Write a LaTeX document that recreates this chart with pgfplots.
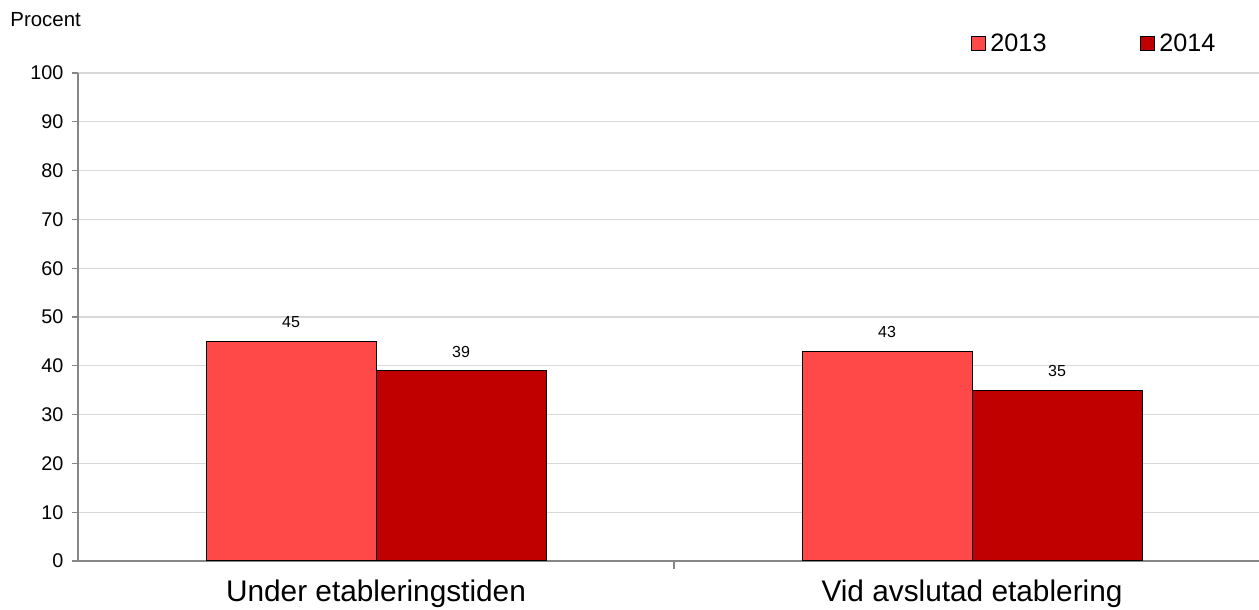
\documentclass[border=0pt]{standalone}
\usepackage{pgfplots}
\pgfplotsset{compat=1.18}
\usepackage{fontspec}
\setmainfont{Liberation Sans}
\definecolor{c2013}{HTML}{FF4949}
\definecolor{c2014}{HTML}{C00000}
\definecolor{gridc}{HTML}{D9D9D9}
\definecolor{axc}{HTML}{868686}
\begin{document}
\begin{tikzpicture}
\useasboundingbox (-39pt,-24.5pt) rectangle (590.5pt,280.5pt);
\begin{axis}[
  at={(0pt,0pt)}, anchor=south west,
  scale only axis, width=590.5pt, height=244pt,
  xmin=-0.5, xmax=1.4815, ymin=0, ymax=100,
  axis x line*=bottom, axis y line*=left,
  axis line style={draw=axc, line width=0.6pt},
  ytick={0,10,...,100},
  ymajorgrids, major grid style={draw=gridc, line width=0.6pt},
  xtick={0,1},
  xticklabels={Under etableringstiden, Vid avslutad etablering},
  minor xtick={0.5},
  tick align=outside,
  major tick length=3pt, minor tick length=4pt,
  major x tick style={draw=none},
  tick style={draw=axc, line width=0.6pt},
  /pgf/number format/assume math mode=true,
  yticklabel style={font=\fontsize{9.9}{11}\selectfont, xshift=-0.8pt},
  xticklabel style={font=\fontsize{14.9}{17}\selectfont, yshift=-3pt},
  ylabel={Procent},
  ylabel style={rotate=-90, at={(axis description cs:-0.0575,1.0943)}, anchor=base west, font=\fontsize{10.2}{12}\selectfont, inner sep=0pt},
  ybar, bar width=85pt,
  nodes near coords,
  every node near coord/.append style={font=\fontsize{8}{10}\selectfont, inner sep=0pt, yshift=6.5pt, text=black},
  legend columns=-1,
  legend image code/.code={\draw[#1, line width=0.5pt] (0pt,-3.5pt) rectangle (7pt,3.5pt);},
  legend style={at={(axis description cs:0.7562,1.0595)}, anchor=west, draw=none, fill=none, inner sep=0pt, outer sep=0pt,
    font=\fontsize{12.6}{14}\selectfont, nodes={inner sep=2.2pt},
    /tikz/every even column/.append style={column sep=44.5pt}},
  clip=false,
]
\addplot+[bar shift=-42.5pt, fill=c2013, draw=black, line width=0.5pt] coordinates {(0,45) (1,43)};
\addplot+[bar shift=42.5pt, fill=c2014, draw=black, line width=0.5pt] coordinates {(0,39) (1,35)};
\legend{2013,2014}
\end{axis}
\end{tikzpicture}
\end{document}
